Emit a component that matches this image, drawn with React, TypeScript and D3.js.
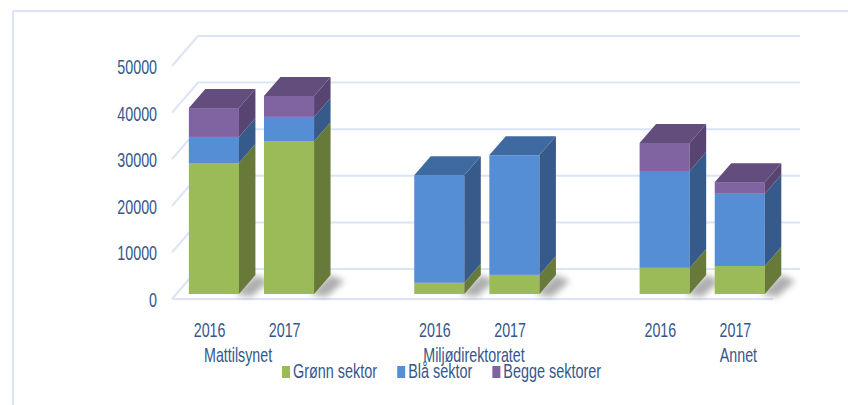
import React from 'react';
import * as d3 from 'd3';

const slots = ['Mattilsynet|2016', 'Mattilsynet|2017', 'gap1', 'Miljødirektoratet|2016', 'Miljødirektoratet|2017', 'gap2', 'Annet|2016', 'Annet|2017'];
const barKeys = ['Mattilsynet|2016', 'Mattilsynet|2017', 'Miljødirektoratet|2016', 'Miljødirektoratet|2017', 'Annet|2016', 'Annet|2017'];
const groups = ['Mattilsynet', 'Miljødirektoratet', 'Annet'];
const gronn = [28100, 32800, 2400, 4100, 5600, 6000];
const bla = [5600, 5200, 23100, 25700, 20800, 15500];
const begge = [6200, 4500, 0, 0, 6000, 2500];
const seriesNames = ['Grønn sektor', 'Blå sektor', 'Begge sektorer'];
const yTicks = [0, 10000, 20000, 30000, 40000, 50000];

const FRONT = ['#9bbb59', '#558ed5', '#8064a2'];
const SIDE = ['#677a3a', '#365b8a', '#574471'];
const TOP = ['#7e9a46', '#3e6aa1', '#634d7d'];
const GRID = '#d9e4f5';
const TXT = '#35578a';
const FONT = "'Liberation Sans', Arial, sans-serif";

function T({ x, y, anchor = 'start', size = 21, sx = 0.68, children }: any) {
  return (
    <text transform={`translate(${x},${y}) scale(${sx},1)`} textAnchor={anchor} fontSize={size} fill={TXT} fontFamily={FONT}>
      {children}
    </text>
  );
}

function measure(s: string, size: number) {
  const c = document.createElement('canvas').getContext('2d')!;
  c.font = `${size}px 'Liberation Sans', Arial, sans-serif`;
  return c.measureText(s).width;
}

export default function App() {
  const W = 848, H = 405;
  const x0 = 172, x1 = 773;
  const DX = 26, DY = 30; // full depth
  const t0 = 0.167, t1 = 0.8; // bar depth range
  const y = d3.scaleLinear().domain([0, 50000]).range([299, 66]);
  const xs = d3.scaleBand().domain(slots).range([x0, x1]).padding(0);
  const slotLin = d3.scaleLinear().domain([0, slots.length]).range([x0, x1]);
  const bw = xs.bandwidth() * 0.667;
  const series = [gronn, bla, begge];
  const stackData = barKeys.map((k, i) => ({ key: k, g: gronn[i], b: bla[i], p: begge[i] }));
  const stack = d3.stack<any>().keys(['g', 'b', 'p'])(stackData);

  const sdx = (t1 - t0) * DX, sdy = (t1 - t0) * DY;
  const ox = t0 * DX, oy = t0 * DY;

  const bars: any[] = [];
  const shadows: any[] = [];
  barKeys.forEach((k, i) => {
    const bx = (xs(k) as number) + (xs.bandwidth() - bw) / 2 + ox;
    const bxr = bx + bw;
    const base = y(0) - oy;
    shadows.push(
      <polygon key={'sh' + i} points={`${bxr - 4},${base} ${bxr + sdx},${base - sdy} ${bxr + sdx + 14},${base - sdy + 6} ${bxr + 12},${base + 3}`}
        fill="#6b6b6b" opacity={0.55} filter="url(#blur)" />
    );
    let topIdx = -1;
    series.forEach((s, j) => { if (s[i] > 0) topIdx = j; });
    stack.forEach((layer, j) => {
      const d = layer[i];
      if (d[1] - d[0] <= 0) return;
      const yt = y(d[1]) - oy, yb = y(d[0]) - oy;
      bars.push(<g key={`b${i}-${j}`}>
        <rect x={bx} y={yt} width={bw} height={yb - yt} fill={FRONT[j]} />
        <polygon points={`${bxr},${yb} ${bxr + sdx},${yb - sdy} ${bxr + sdx},${yt - sdy} ${bxr},${yt}`} fill={SIDE[j]} />
        {j === topIdx && (
          <polygon points={`${bx},${yt} ${bxr},${yt} ${bxr + sdx},${yt - sdy} ${bx + sdx},${yt - sdy}`} fill={TOP[j]} />
        )}
      </g>);
    });
  });

  // group label placement (slot units)
  const groupPos: Record<string, number> = { 'Mattilsynet': 0.88, 'Miljødirektoratet': 4.02, 'Annet': 7.54 };

  // legend
  const legSize = 19.5, legSx = 0.74;
  let lx = 282;
  const legend = seriesNames.map((n, j) => {
    const w = measure(n, legSize) * legSx;
    const g = (
      <g key={n}>
        <rect x={lx} y={366} width={8} height={12} fill={FRONT[j]} />
        <T x={lx + 11} y={378} size={legSize} sx={legSx}>{n}</T>
      </g>
    );
    lx += 11 + w + 20;
    return g;
  });

  return (
    <svg width={W} height={H} style={{ position: 'absolute', left: 0, top: 0, background: '#fff' }}>
      <defs>
        <filter id="blur" x="-50%" y="-50%" width="200%" height="200%">
          <feGaussianBlur stdDeviation="3" />
        </filter>
      </defs>
      {/* frame */}
      <line x1={13} y1={11} x2={W} y2={11} stroke={GRID} strokeWidth={2} />
      <line x1={13} y1={11} x2={13} y2={H} stroke={GRID} strokeWidth={2} />
      {/* walls / grid */}
      {yTicks.map(v => (
        <g key={v}>
          <line x1={x0} y1={y(v)} x2={x0 + DX} y2={y(v) - DY} stroke={GRID} strokeWidth={2} />
          <line x1={x0 + DX} y1={y(v) - DY} x2={x1 + DX + 1} y2={y(v) - DY} stroke={GRID} strokeWidth={2} />
        </g>
      ))}
      <line x1={x0} y1={y(0)} x2={x1} y2={y(0)} stroke={GRID} strokeWidth={2} />
      {shadows}
      {bars}
      {yTicks.map(v => (
        <T key={'yl' + v} x={157} y={y(v) + 8} anchor="end">{v}</T>
      ))}
      {barKeys.map(k => {
        const yr = k.split('|')[1];
        return <T key={'yr' + k} x={(xs(k) as number) + xs.bandwidth() / 2} y={337} anchor="middle">{yr}</T>;
      })}
      {groups.map(g => (
        <T key={'g' + g} x={slotLin(groupPos[g])} y={362} anchor="middle">{g}</T>
      ))}
      {legend}
    </svg>
  );
}
